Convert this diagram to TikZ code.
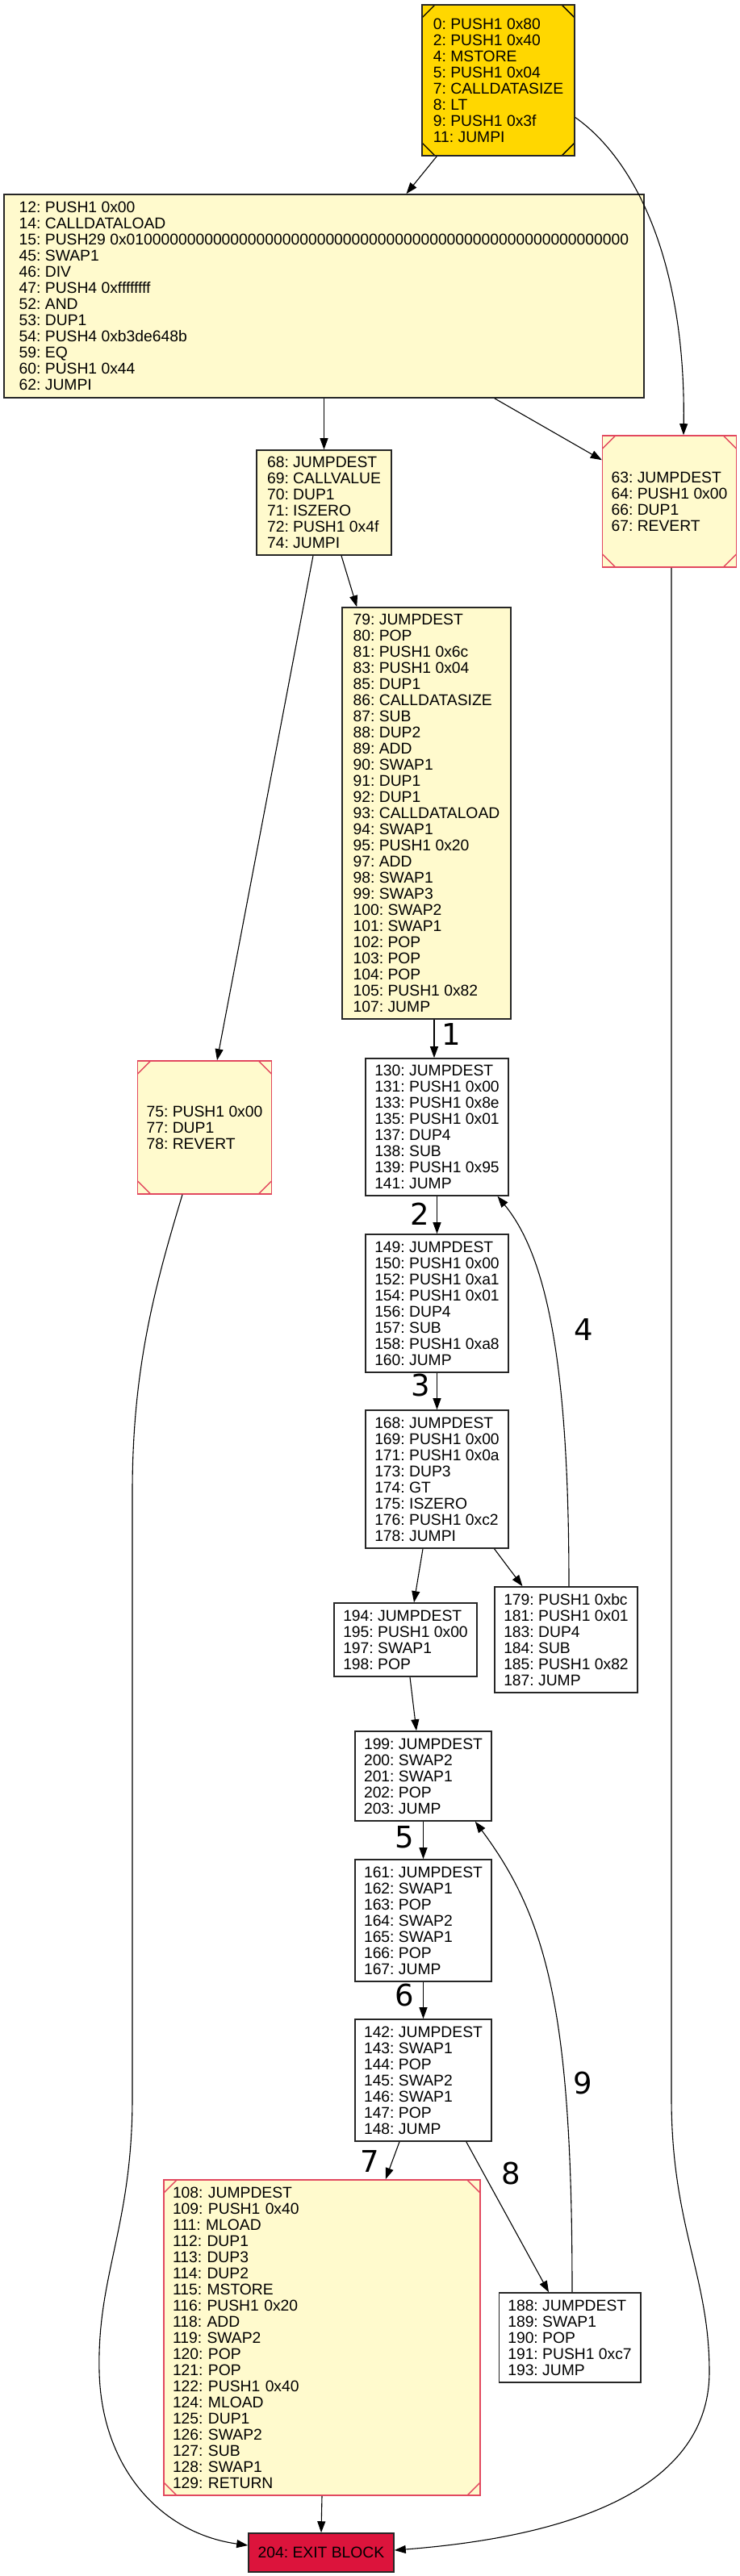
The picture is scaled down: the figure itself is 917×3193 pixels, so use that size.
\documentclass[tikz,border=0pt]{standalone}
\usepackage{fontspec}
\usetikzlibrary{arrows.meta}
\newfontfamily\codefont{Liberation Sans}
\newfontfamily\labfont{DejaVu Sans}
\definecolor{boxgold}{HTML}{FFD700}
\definecolor{boxlemon}{HTML}{FFFACD}
\definecolor{exitred}{HTML}{DC143C}
\definecolor{cutred}{HTML}{E2485F}
\tikzset{
  blk/.style={draw=black!85, line width=1.6pt, fill=white, align=left,
    inner xsep=11pt, inner ysep=0pt,
    font=\codefont\fontsize{19.3pt}{20pt}\selectfont\frenchspacing},
  sz/.style 2 args={minimum width=#1, minimum height=#2},
  lemon/.style={fill=boxlemon},
  corners/.style={path picture={
    \draw[#1, line width=1.4pt]
      ([xshift=16pt]path picture bounding box.north west) -- ([yshift=-16pt]path picture bounding box.north west)
      ([xshift=-16pt]path picture bounding box.north east) -- ([yshift=-16pt]path picture bounding box.north east)
      ([xshift=16pt]path picture bounding box.south west) -- ([yshift=16pt]path picture bounding box.south west)
      ([xshift=-16pt]path picture bounding box.south east) -- ([yshift=16pt]path picture bounding box.south east);}},
  corners/.default=black,
  msq/.style={lemon, draw=cutred, corners=cutred},
  edge/.style={-{Triangle[length=14pt,width=10pt]}, line width=1.1pt},
  elabel/.style={font=\labfont\fontsize{37pt}{40pt}\selectfont}
}
\begin{document}
\begin{tikzpicture}[x=1pt,y=-1pt]
  \useasboundingbox (0,0) rectangle (917,3193);

  \node[blk, fill=boxgold, corners, sz={189pt}{187pt}] (b0) at (617.5,99.5)
    {0: PUSH1 0x80\\2: PUSH1 0x40\\4: MSTORE\\5: PUSH1 0x04\\7: CALLDATASIZE\\8: LT\\9: PUSH1 0x3f\\11: JUMPI};
  \node[blk, lemon, sz={793pt}{252pt}] (b12) at (401.5,367)
    {12: PUSH1 0x00\\14: CALLDATALOAD\\15: PUSH29 0x0100000000000000000000000000000000000000000000000000000000\\45: SWAP1\\46: DIV\\47: PUSH4 0xffffffff\\52: AND\\53: DUP1\\54: PUSH4 0xb3de648b\\59: EQ\\60: PUSH1 0x44\\62: JUMPI};
  \node[blk, lemon, sz={167pt}{130pt}] (b68) at (401.5,623)
    {68: JUMPDEST\\69: CALLVALUE\\70: DUP1\\71: ISZERO\\72: PUSH1 0x4f\\74: JUMPI};
  \node[blk, msq, sz={165pt}{163pt}] (b63) at (829.5,621.5)
    {63: JUMPDEST\\64: PUSH1 0x00\\66: DUP1\\67: REVERT};
  \node[blk, lemon, sz={209pt}{510pt}] (b79) at (528.5,1008)
    {79: JUMPDEST\\80: POP\\81: PUSH1 0x6c\\83: PUSH1 0x04\\85: DUP1\\86: CALLDATASIZE\\87: SUB\\88: DUP2\\89: ADD\\90: SWAP1\\91: DUP1\\92: DUP1\\93: CALLDATALOAD\\94: SWAP1\\95: PUSH1 0x20\\97: ADD\\98: SWAP1\\99: SWAP3\\100: SWAP2\\101: SWAP1\\102: POP\\103: POP\\104: POP\\105: PUSH1 0x82\\107: JUMP};
  \node[blk, msq, sz={165pt}{165pt}] (b75) at (253.5,1397.5)
    {75: PUSH1 0x00\\77: DUP1\\78: REVERT};
  \node[blk, sz={175pt}{170pt}] (b130) at (541.5,1397)
    {130: JUMPDEST\\131: PUSH1 0x00\\133: PUSH1 0x8e\\135: PUSH1 0x01\\137: DUP4\\138: SUB\\139: PUSH1 0x95\\141: JUMP};
  \node[blk, sz={175pt}{171pt}] (b149) at (541.5,1615.5)
    {149: JUMPDEST\\150: PUSH1 0x00\\152: PUSH1 0xa1\\154: PUSH1 0x01\\156: DUP4\\157: SUB\\158: PUSH1 0xa8\\160: JUMP};
  \node[blk, sz={175pt}{171pt}] (b168) at (541.5,1833.5)
    {168: JUMPDEST\\169: PUSH1 0x00\\171: PUSH1 0x0a\\173: DUP3\\174: GT\\175: ISZERO\\176: PUSH1 0xc2\\178: JUMPI};
  \node[blk, sz={175pt}{91pt}] (b194) at (502.5,2032.5)
    {194: JUMPDEST\\195: PUSH1 0x00\\197: SWAP1\\198: POP};
  \node[blk, sz={175pt}{131pt}] (b179) at (701.5,2032.5)
    {179: PUSH1 0xbc\\181: PUSH1 0x01\\183: DUP4\\184: SUB\\185: PUSH1 0x82\\187: JUMP};
  \node[blk, sz={169pt}{111pt}] (b199) at (524.5,2201.5)
    {199: JUMPDEST\\200: SWAP2\\201: SWAP1\\202: POP\\203: JUMP};
  \node[blk, sz={169pt}{151pt}] (b161) at (524.5,2380.5)
    {161: JUMPDEST\\162: SWAP1\\163: POP\\164: SWAP2\\165: SWAP1\\166: POP\\167: JUMP};
  \node[blk, sz={169pt}{151pt}] (b142) at (524.5,2578.5)
    {142: JUMPDEST\\143: SWAP1\\144: POP\\145: SWAP2\\146: SWAP1\\147: POP\\148: JUMP};
  \node[blk, msq, text width=370pt, minimum height=391pt] (b108) at (399,2897.5)
    {108: JUMPDEST\\109: PUSH1 0x40\\111: MLOAD\\112: DUP1\\113: DUP3\\114: DUP2\\115: MSTORE\\116: PUSH1 0x20\\118: ADD\\119: SWAP2\\120: POP\\121: POP\\122: PUSH1 0x40\\124: MLOAD\\125: DUP1\\126: SWAP2\\127: SUB\\128: SWAP1\\129: RETURN};
  \node[blk, sz={174pt}{111pt}] (b188) at (706,2897.5)
    {188: JUMPDEST\\189: SWAP1\\190: POP\\191: PUSH1 0xc7\\193: JUMP};
  \node[blk, fill=exitred, sz={180pt}{48pt}] (b204) at (398,3164)
    {204: EXIT BLOCK};

  \draw[edge] ([xshift=19pt]b0.south west) -- ([xshift=102pt]b12.north);
  \draw[edge] ([yshift=-46pt]b0.east) .. controls (790,200) and (850,330) .. ([xshift=17.5pt]b63.north);
  \draw[edge] (b12.south) -- (b68.north);
  \draw[edge] ([xshift=-186pt]b12.south east) -- ([yshift=-31pt]b63.north west);
  \draw[edge] ([xshift=-13.5pt]b68.south) -- ([xshift=15.5pt]b75.north);
  \draw[edge] ([xshift=21.5pt]b68.south) -- ([xshift=19pt]b79.north west);
  \draw[edge] ([xshift=2.5pt]b63.south) -- (832,2600) .. controls (832,2760) and (879,2820) .. (879,2940)
    .. controls (879,3060) and (760,3140) .. ([yshift=3pt]b204.east);
  \draw[edge] ([xshift=-27.5pt]b75.south) .. controls (190,1600) and (164,1700) .. (164,1850) -- (164,2600)
    .. controls (164,2760) and (120,2820) .. (123,2940) .. controls (126,3060) and (200,3140) .. ([yshift=9pt]b204.west);
  \draw[edge] ([xshift=9.5pt]b79.south) -- ([xshift=-3.5pt]b130.north);
  \draw[edge] (b130.south) -- (b149.north);
  \draw[edge] (b149.south) -- (b168.north);
  \draw[edge] ([xshift=-17.5pt]b168.south) -- ([xshift=10.5pt]b194.north);
  \draw[edge] ([xshift=-18pt]b168.south east) -- ([xshift=35pt]b179.north west);
  \draw[edge] ([xshift=3.5pt]b179.north) .. controls (705,1700) and (680,1560) .. ([xshift=-14pt]b130.south east);
  \draw[edge] ([xshift=5.5pt]b194.south) -- ([xshift=-8.5pt]b199.north);
  \draw[edge] (b199.south) -- (b161.north);
  \draw[edge] (b161.south) -- (b142.north);
  \draw[edge] ([xshift=-29.5pt]b142.south) -- ([xshift=-118pt]b108.north east);
  \draw[edge] ([xshift=-32pt]b142.south east) -- ([xshift=-26pt]b188.north);
  \draw[edge] ([xshift=3pt]b188.north) .. controls (709,2500) and (680,2380) .. ([xshift=-21pt]b199.south east);
  \draw[edge] (b108.south) -- (b204.north);

  \node[elabel] (l1) at (559,1282) {1};
  \node[elabel] (l2) at (520,1505) {2};
  \node[elabel] (l3) at (521,1717) {3};
  \node[elabel] (l4) at (723,1648) {4};
  \node[elabel] (l5) at (501,2277) {5};
  \node[elabel] (l6) at (501,2473) {6};
  \node[elabel] (l7) at (458,2679) {7};
  \node[elabel] (l8) at (633,2694) {8};
  \node[elabel] (l9) at (722,2582) {9};
\end{tikzpicture}
\end{document}
